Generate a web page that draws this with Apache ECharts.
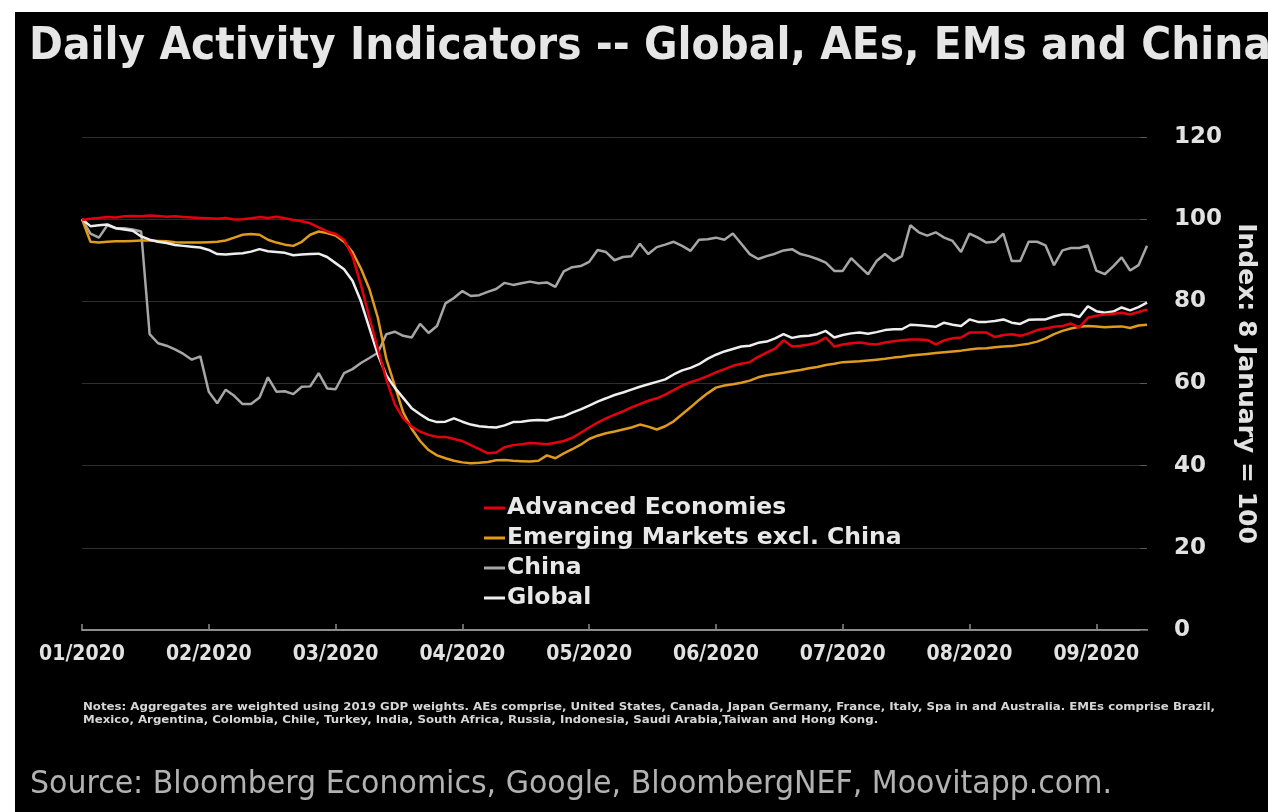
<!DOCTYPE html>
<html>
<head>
<meta charset="utf-8">
<script src="https://cdn.jsdelivr.net/npm/echarts@6/dist/echarts.min.js"></script>
<style>
  html, body { margin: 0; padding: 0; background: #ffffff; }
  #panel { position: absolute; left: 15px; top: 12px; width: 1253px; height: 800px; background: #000000; }
  #chart { position: absolute; left: 0; top: 0; width: 1268px; height: 812px; }
</style>
</head>
<body>
<div id="panel"></div>
<div id="chart"></div>
<script>
// Month tick labels and sampling of the daily series (every other day, 15 samples per month)
const monthLabels = ['01/2020', '02/2020', '03/2020', '04/2020', '05/2020', '06/2020', '07/2020', '08/2020', '09/2020'];
const sampleDays = [1, 3, 5, 7, 9, 11, 13, 15, 17, 19, 21, 23, 25, 27, 29];
const lastSampleDay = 13; // data end in September

const categories = [];
monthLabels.forEach(function (m, mi) {
  sampleDays.forEach(function (d) {
    if (mi === monthLabels.length - 1 && d > lastSampleDay) return;
    categories.push('2020-' + m.slice(0, 2) + '-' + (d < 10 ? '0' + d : '' + d));
  });
});

// Index: 8 January = 100
const advancedEconomies = [
  99.8, 100.1, 100.3, 100.5, 100.4, 100.7, 100.8, 100.7, 100.9, 100.8, 100.6, 100.7, 100.5, 100.4, 100.3,
  100.2, 100.1, 100.3, 99.9, 100.0, 100.2, 100.5, 100.3, 100.6, 100.2,
  99.8, 99.5, 99.0, 98.0, 97.0, 96.4, 95.0, 91.0, 84.0, 76.0, 68.5, 61.0, 55.0, 51.5, 49.5, 48.3, 47.5, 47.0, 47.0, 46.5,
  46.0, 45.0, 44.0, 43.0, 43.2, 44.5, 45.0, 45.2, 45.5, 45.4, 45.2, 45.6, 46.0, 46.8, 48.0, 49.3, 50.5, 51.5, 52.4, 53.2,
  54.2, 55.0, 55.8, 56.4, 57.3, 58.4, 59.5, 60.3, 61.0, 61.8, 62.7, 63.5, 64.3, 64.8, 65.2, 66.5, 67.5, 68.5, 70.5, 69.0,
  69.2, 69.5, 70.0, 71.2, 69.0, 69.5, 69.8, 70.0, 69.7, 69.5, 70.0, 70.3, 70.5, 70.7, 70.7, 70.6, 69.5, 70.5, 71.0, 71.2,
  72.4, 72.4, 72.4, 71.3, 71.8, 72.0, 71.6, 72.2, 73.0, 73.4, 73.8, 74.0, 74.6, 73.6, 76.0, 76.5, 76.8, 77.0, 77.2, 76.8, 77.4, 78.0
];

const emergingMarkets = [
  100.0, 94.5, 94.3, 94.5, 94.6, 94.6, 94.7, 94.8, 94.8, 94.7, 94.6, 94.4, 94.3, 94.3, 94.3,
  94.4, 94.5, 94.8, 95.5, 96.2, 96.4, 96.2, 95.0, 94.3, 93.8,
  93.5, 94.5, 96.2, 97.0, 96.6, 96.0, 94.5, 92.0, 88.0, 83.0, 76.0, 66.0, 59.5, 53.0, 49.0, 46.0, 43.8, 42.5, 41.8, 41.2,
  40.8, 40.6, 40.7, 40.9, 41.3, 41.4, 41.2, 41.1, 41.0, 41.2, 42.5, 41.8, 43.0, 44.0, 45.1, 46.5, 47.3, 47.9, 48.3, 48.8,
  49.3, 50.0, 49.5, 48.8, 49.6, 50.8, 52.5, 54.2, 56.0, 57.6, 59.0, 59.5, 59.8, 60.2, 60.7, 61.5, 62.0, 62.3, 62.6, 63.0,
  63.3, 63.7, 64.0, 64.5, 64.8, 65.2, 65.3, 65.4, 65.6, 65.8, 66.0, 66.3, 66.5, 66.8, 67.0, 67.2, 67.4, 67.6, 67.8, 68.0,
  68.3, 68.5, 68.6, 68.8, 69.0, 69.1, 69.4, 69.7, 70.2, 71.0, 72.0, 72.8, 73.4, 73.8, 74.0, 73.9, 73.7, 73.8, 73.9, 73.5, 74.1, 74.3
];

const china = [
  100.0, 96.5, 95.5, 98.5, 97.8, 97.8, 97.5, 97.0, 72.0, 69.8, 69.2, 68.3, 67.2, 65.8, 66.6,
  58.0, 55.2, 58.5, 57.0, 55.0, 55.0, 56.6, 61.5, 58.0, 58.1,
  57.4, 59.2, 59.3, 62.5, 58.8, 58.6, 62.5, 63.5, 65.0, 66.2, 67.5, 72.0, 72.6, 71.6, 71.2, 74.5, 72.3, 74.0, 79.5, 80.8,
  82.5, 81.3, 81.5, 82.3, 83.0, 84.5, 84.0, 84.4, 84.8, 84.4, 84.6, 83.5, 87.3, 88.3, 88.6, 89.6, 92.5, 92.0, 90.0, 90.8,
  91.0, 94.0, 91.5, 93.2, 93.8, 94.5, 93.5, 92.3, 95.0, 95.1, 95.5, 95.0, 96.5, 94.0, 91.5, 90.3, 91.0, 91.6, 92.4, 92.7,
  91.5, 91.0, 90.3, 89.4, 87.4, 87.4, 90.5, 88.5, 86.6, 89.8, 91.5, 89.8, 91.0, 98.5, 96.8, 96.0, 96.8, 95.5, 94.7, 92.0,
  96.5, 95.5, 94.3, 94.5, 96.5, 89.8, 89.8, 94.5, 94.5, 93.6, 88.8, 92.4, 93.0, 93.0, 93.6, 87.5, 86.6, 88.5, 90.7, 87.5, 88.8, 93.5
];

const globalIndex = [
  100.0, 98.3, 98.5, 98.7, 97.8, 97.5, 97.2, 95.8, 95.0, 94.5, 94.2, 93.7, 93.5, 93.3, 93.1,
  92.5, 91.5, 91.4, 91.6, 91.7, 92.1, 92.7, 92.2, 92.0, 91.8,
  91.2, 91.4, 91.5, 91.6, 90.8, 89.3, 87.8, 85.0, 80.0, 73.5, 67.0, 62.0, 59.0, 56.5, 54.0, 52.5, 51.2, 50.6, 50.7, 51.5,
  50.7, 50.0, 49.6, 49.4, 49.3, 49.8, 50.6, 50.7, 51.0, 51.1, 51.0, 51.6, 52.0, 52.9, 53.7, 54.6, 55.6, 56.4, 57.2, 57.8,
  58.5, 59.2, 59.8, 60.4, 61.0, 62.2, 63.2, 63.8, 64.7, 66.0, 67.0, 67.8, 68.4, 69.0, 69.2, 69.9, 70.2, 71.0, 72.0, 71.1,
  71.5, 71.6, 72.0, 72.8, 71.2, 71.8, 72.2, 72.4, 72.1, 72.5, 73.0, 73.2, 73.2, 74.3, 74.2, 74.0, 73.8, 74.8, 74.3, 74.0,
  75.6, 75.0, 75.0, 75.2, 75.6, 74.8, 74.5, 75.5, 75.6, 75.6, 76.3, 76.8, 76.8, 76.2, 78.8, 77.6, 77.2, 77.5, 78.5, 77.8, 78.6, 79.7
];

const titleText = 'Daily Activity Indicators -- Global, AEs, EMs and China';
const notesLines = [
  'Notes: Aggregates are weighted using 2019 GDP weights. AEs comprise, United States, Canada, Japan Germany, France, Italy, Spa in and Australia. EMEs comprise Brazil,',
  'Mexico, Argentina, Colombia, Chile, Turkey, India, South Africa, Russia, Indonesia, Saudi Arabia,Taiwan and Hong Kong.'
];
const sourceText = 'Source: Bloomberg Economics, Google, BloombergNEF, Moovitapp.com.';
const axisName = 'Index: 8 January = 100';

const FONT = '"DejaVu Sans", sans-serif';
const NARROW = '"DejaVu Sans Condensed", "DejaVu Sans", sans-serif';

// horizontal squeeze so a text line spans a given width
const measureCtx = document.createElement('canvas').getContext('2d');
function fitScale(text, weight, size, width) {
  measureCtx.font = weight + ' ' + size + 'px ' + FONT;
  return width / measureCtx.measureText(text).width;
}

const titleScale = fitScale(titleText, 'bold', 44, 1242);
const notesScale = fitScale(notesLines[0], 'bold', 10.5, 1132);
const sourceScale = fitScale(sourceText, 'normal', 32, 1082);

function textEl(text, x, y, size, weight, color, scale) {
  return {
    type: 'text', x: x, y: y, scaleX: scale, silent: true,
    style: { text: text, fontSize: size, fontWeight: weight, fontFamily: FONT, fill: color, align: 'left', verticalAlign: 'middle' }
  };
}

const chart = echarts.init(document.getElementById('chart'), null, { renderer: 'canvas' });

const lineSeries = function (name, data, color, width) {
  return {
    name: name, type: 'line', data: data, showSymbol: false, symbol: 'none',
    lineStyle: { color: color, width: width }, itemStyle: { color: color },
    emphasis: { disabled: true }
  };
};

chart.setOption({
  backgroundColor: 'transparent',
  animation: false,
  textStyle: { fontFamily: FONT },
  grid: { left: 82, right: 121, top: 137, bottom: 182, containLabel: false },
  graphic: [
    textEl(titleText, 29, 48, 44, 'bold', '#e6e6e6', titleScale),
    textEl(notesLines[0], 83, 707, 10.5, 'bold', '#d6d6d6', notesScale),
    textEl(notesLines[1], 83, 720, 10.5, 'bold', '#d6d6d6', notesScale),
    textEl(sourceText, 30, 785, 32, 'normal', '#b2b2b2', sourceScale)
  ],
  legend: {
    orient: 'vertical', left: 479, top: 491,
    icon: 'rect', itemWidth: 21, itemHeight: 3, itemGap: 6,
    selectedMode: false,
    data: ['Advanced Economies', 'Emerging Markets excl. China', 'China', 'Global'],
    textStyle: { color: '#e8e8e8', fontWeight: 'bold', fontSize: 23.5, lineHeight: 23.5, fontFamily: FONT, padding: [0, 0, 0, -3] }
  },
  xAxis: {
    type: 'category', data: categories, boundaryGap: false,
    axisLine: { lineStyle: { color: '#8c8c8c', width: 2 } },
    axisTick: { show: true, inside: true, length: 6, interval: function (i) { return i % sampleDays.length === 0; }, lineStyle: { color: '#8c8c8c', width: 1.5 } },
    axisLabel: {
      interval: function (i) { return i % sampleDays.length === 0; },
      formatter: function (v) { return monthLabels[parseInt(v.slice(5, 7), 10) - 1]; },
      color: '#e2e2e2', fontWeight: 'bold', fontSize: 21, fontFamily: NARROW, margin: 14
    },
    splitLine: { show: false }
  },
  yAxis: {
    type: 'value', position: 'right', min: 0, max: 120, interval: 20,
    axisLine: { show: false },
    axisTick: { show: true, inside: true, length: 7, lineStyle: { color: '#5a5a5a' } },
    splitLine: { lineStyle: { color: '#2e2e2e', width: 1 } },
    axisLabel: { color: '#e2e2e2', fontWeight: 'bold', fontSize: 23, margin: 27, fontFamily: FONT },
    name: axisName, nameLocation: 'middle', nameRotate: -90, nameGap: 84,
    nameTextStyle: { color: '#e2e2e2', fontWeight: 'bold', fontSize: 25, fontFamily: FONT }
  },
  series: [
    lineSeries('China', china, '#a6a6a6', 2.5),
    lineSeries('Emerging Markets excl. China', emergingMarkets, '#e09a1c', 2.5),
    lineSeries('Global', globalIndex, '#eeeeee', 2.5),
    lineSeries('Advanced Economies', advancedEconomies, '#e4000f', 2.5)
  ]
});
</script>
</body>
</html>
